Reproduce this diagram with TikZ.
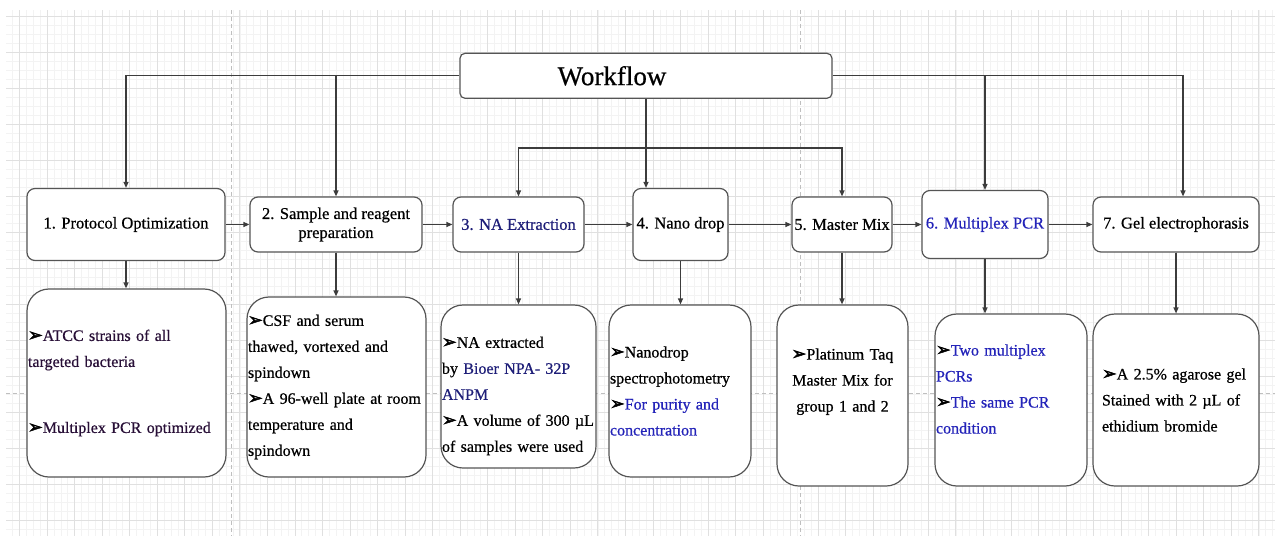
\documentclass[tikz,border=0pt]{standalone}
\usepackage{fontspec}
\setmainfont{Liberation Serif}[UprightFeatures={FakeBold=0.6}]
\newfontfamily\dejavu[Scale=1.1, FakeBold=2.5]{DejaVu Sans}
\usetikzlibrary{arrows.meta}
\definecolor{boxline}{RGB}{85,85,85}
\definecolor{arrowgray}{RGB}{60,60,60}
\definecolor{navytxt}{RGB}{30,30,120}
\definecolor{pcrblue}{RGB}{35,35,185}
\definecolor{darkplum}{RGB}{40,15,55}
\definecolor{gridmajor}{RGB}{224,224,224}
\definecolor{gridminor}{RGB}{243,243,243}
\newcommand{\bul}{{\color{black}\dejavu ➢}}

\begin{document}
\begin{tikzpicture}[
        x=1pt, y=-1pt,
        topbox/.style = {draw=boxline, fill=white, line width=1.2pt, rounded corners=8pt, align=center, inner xsep=1pt, font={\fontsize{16.5}{19}\selectfont}},
        detbox/.style = {draw=boxline, fill=white, line width=1.2pt, rounded corners=22pt, align=left, inner xsep=1pt, font={\fontsize{16}{26}\selectfont}},
        arrow/.style = {draw=arrowgray, line width=1.2pt, -{Triangle[length=6pt, width=5pt]}},
        gridmin/.style = {draw=gridminor, line width=0.6pt},
        gridmaj/.style = {draw=gridmajor, line width=0.8pt},
        pagebreak/.style = {draw=black!25, line width=0.8pt, dash pattern=on 4pt off 3pt}
    ]

        \useasboundingbox (0,0) rectangle (1275,536);

        % Grid
        \foreach \k in {-1,...,182} \draw[gridmin] ({19.5+6.885*\k},10) -- ({19.5+6.885*\k},536);
        \foreach \k in {0,...,57} \draw[gridmin] (6,{16+9*\k}) -- (1275,{16+9*\k});
        \foreach \k in {0,...,45} \draw[gridmaj] ({19.5+27.54*\k},10) -- ({19.5+27.54*\k},536);
        \foreach \k in {0,...,14} \draw[gridmaj] (6,{16+36*\k}) -- (1275,{16+36*\k});
        \draw[pagebreak] (231,10) -- (231,536);
        \draw[pagebreak] (800,10) -- (800,536);
        \draw[pagebreak] (6,393) -- (1275,393);

        % Workflow
        \node (wf) [topbox, rounded corners=5pt, minimum width=372pt, minimum height=45pt, font={\fontsize{27}{30}\selectfont}] at (646,75.8) {\hspace*{-68pt}Workflow};

        % Steps
        \node (b1) [topbox, minimum width=198pt, minimum height=72pt] at (126,224.5) {1. Protocol Optimization};
        \node (b2) [topbox, minimum width=172pt, minimum height=55pt] at (336,224.5) {2. Sample and reagent\\preparation};
        \node (b3) [topbox, minimum width=131pt, minimum height=55pt, text=navytxt] at (518.5,224.5) {3. NA Extraction};
        \node (b4) [topbox, minimum width=95pt, minimum height=72pt] at (680.5,224.5) {4. Nano drop};
        \node (b5) [topbox, minimum width=100pt, minimum height=55pt] at (842,224.5) {5. Master Mix};
        \node (b6) [topbox, minimum width=126pt, minimum height=68pt, text=pcrblue] at (985,224.5) {6. Multiplex PCR};
        \node (b7) [topbox, minimum width=166pt, minimum height=55pt] at (1176,224.5) {7. Gel electrophorasis};

        % Details
        \node (d1) [detbox, text=darkplum, text width=197pt, minimum height=188pt] at (126.5,383) {
            \bul ATCC strains of all\\
            targeted bacteria\\[40pt]
            \bul Multiplex PCR optimized
        };
        \node (d2) [detbox, text width=177pt, minimum height=180pt] at (336.5,387) {
            \bul CSF and serum\\
            thawed, vortexed and\\
            spindown\\
            \bul A 96-well plate at room\\
            temperature and\\
            spindown
        };
        \node (d3) [detbox, text width=153pt, minimum height=163pt] at (518.5,386.5) {
            \rule{0pt}{30pt}\bul NA extracted\\
            by \textcolor{navytxt}{Bioer NPA- 32P}\\
            \textcolor{navytxt}{ANPM}\\
            \bul A volume of 300 µL\\
            of samples were used
        };
        \node (d4) [detbox, text width=140pt, minimum height=172pt] at (680,391) {
            \bul Nanodrop\\
            spectrophotometry\\
            \bul\textcolor{pcrblue}{For purity and}\\
            \textcolor{pcrblue}{concentration}
        };
        \node (d5) [detbox, align=center, text width=129pt, minimum height=181pt] at (842.5,395.5) {
            \bul Platinum Taq\\
            Master Mix for\\
            group 1 and 2\rule[-31pt]{0pt}{31pt}
        };
        \node (d6) [detbox, text=pcrblue, text width=150pt, minimum height=172pt] at (1011,400) {
            \bul Two multiplex\\
            PCRs\\
            \bul The same PCR\\
            condition\rule[-22pt]{0pt}{22pt}
        };
        \node (d7) [detbox, inner xsep=9pt, text width=148pt, minimum height=172pt] at (1176,400) {
            \bul A 2.5\% agarose gel\\
            Stained with 2 µL of\\
            ethidium bromide
        };

        % Arrows from Workflow
        \draw[arrow] (wf.west) -| (b1.north);
        \draw[arrow] (wf.west -| b2.north) -- (b2.north);
        \draw[arrow] (wf.east) -| ([xshift=7pt]b7.north);
        \draw[arrow] (wf.east -| b6.north) -- (b6.north);
        \draw[arrow] (wf.south) -- (wf.south |- b4.north);
        \coordinate (split) at (wf.south |- 0,148);
        \draw[arrow] (split) -| (b3.north);
        \draw[arrow] (split) -| (b5.north);

        % Chain of steps
        \foreach \a/\b in {b1/b2, b2/b3, b3/b4, b4/b5, b5/b6, b6/b7}
            \draw[arrow] (\a) -- (\b);

        % Steps to details
        \foreach \n in {1,...,7}
            \draw[arrow] (b\n.south) -- (b\n.south |- d\n.north);

    \end{tikzpicture}
\end{document}
